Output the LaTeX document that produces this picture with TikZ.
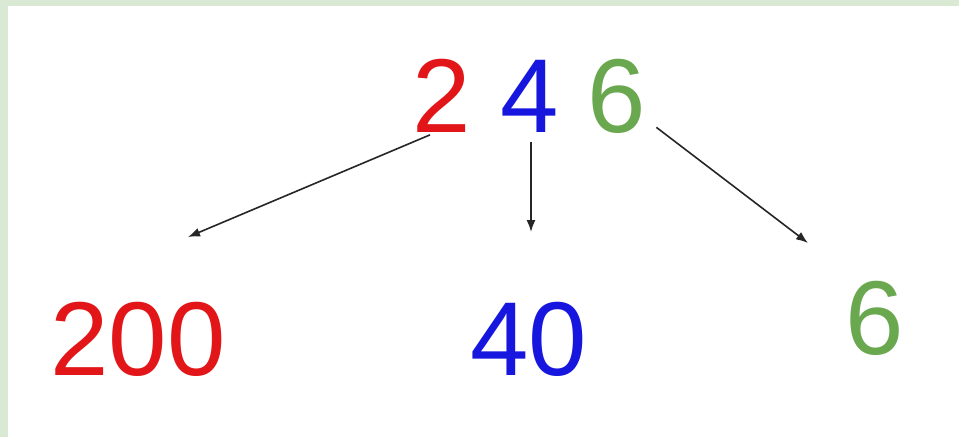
\documentclass[tikz,border=0pt]{standalone}
\usepackage{fontspec}
\setmainfont{Liberation Sans}
\usepackage{tikz}
\usetikzlibrary{arrows.meta}
\usetikzlibrary{calc,positioning}

\definecolor{digred}{RGB}{226,22,24}
\definecolor{digblue}{RGB}{22,22,222}
\definecolor{diggreen}{RGB}{106,168,79}
\definecolor{edgegreen}{RGB}{217,233,211}

\begin{document}
\begin{tikzpicture}[x=1pt, y=-1pt,
			digit/.style = {inner sep=0pt, font=\fontsize{105}{105}\selectfont},
			rd/.style = {digit, digred},
			bl/.style = {digit, digblue},
			gr/.style = {digit, diggreen},
			arr/.style = {-{Latex[length=12pt,width=9pt]}, line width=1.6pt, black!85}
		]
		% frame
		\fill[edgegreen] (0,0) rectangle (959,437);
		\fill[white] (8,6) rectangle (959,437);
		\useasboundingbox (0,0) rectangle (959,437);
		% top number
		\node [bl] (t4) at (530,96) {4};
		\node [rd] (t2) at (442,96) {2};
		\node [gr] (t6) at (617,96) {6};
		% places
		\node [rd] (b200) at (138,339) {200};
		\node [bl] (b40) at (529,339) {40};
		\node [gr] (b6) at (875,318) {6};
		\coordinate (e200) at (188,237);
		\coordinate (e40) at (531,232);
		\coordinate (e6) at (808,243);
		% arrows
		\draw [arr] ([xshift=-12pt,yshift=-2pt]t2.south) -- (e200);
		\draw [arr] ([xshift=1pt,yshift=-10pt]t4.south) -- (e40);
		\draw [arr] ([xshift=10pt,yshift=6pt]t6.south east) -- (e6);
	\end{tikzpicture}
\end{document}
